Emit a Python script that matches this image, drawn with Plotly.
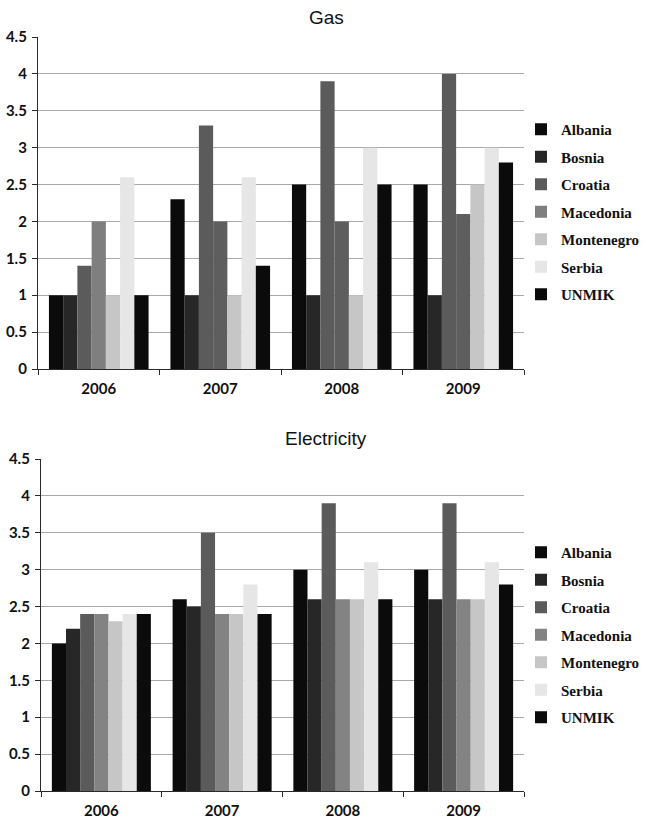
import plotly.graph_objects as go

# Categories and series
years = ["2006", "2007", "2008", "2009"]
countries = ["Albania", "Bosnia", "Croatia", "Macedonia", "Montenegro", "Serbia", "UNMIK"]

gas_albania = [1.0, 2.3, 2.5, 2.5]
gas_bosnia = [1.0, 1.0, 1.0, 1.0]
gas_croatia = [1.4, 3.3, 3.9, 4.0]
gas_macedonia = [2.0, 2.0, 2.0, 2.1]
gas_montenegro = [1.0, 1.0, 1.0, 2.5]
gas_serbia = [2.6, 2.6, 3.0, 3.0]
gas_unmik = [1.0, 1.4, 2.5, 2.8]

el_albania = [2.0, 2.6, 3.0, 3.0]
el_bosnia = [2.2, 2.5, 2.6, 2.6]
el_croatia = [2.4, 3.5, 3.9, 3.9]
el_macedonia = [2.4, 2.4, 2.6, 2.6]
el_montenegro = [2.3, 2.4, 2.6, 2.6]
el_serbia = [2.4, 2.8, 3.1, 3.1]
el_unmik = [2.4, 2.4, 2.6, 2.8]

y_ticks = [0, 0.5, 1, 1.5, 2, 2.5, 3, 3.5, 4, 4.5]
y_tick_text = ["0", "0.5", "1", "1.5", "2", "2.5", "3", "3.5", "4", "4.5"]

gas_series = [gas_albania, gas_bosnia, gas_croatia, gas_macedonia,
              gas_montenegro, gas_serbia, gas_unmik]
el_series = [el_albania, el_bosnia, el_croatia, el_macedonia,
             el_montenegro, el_serbia, el_unmik]

# Grey shades per country
shades = ["#0b0b0b", "#272727", "#5b5b5b", "#838383", "#c6c6c6", "#e6e6e6", "#0b0b0b"]
gas_macedonia_shades = ["#7f7f7f", "#5e5e5e", "#5e5e5e", "#5e5e5e"]

fig = go.Figure()

for i, (name, vals) in enumerate(zip(countries, gas_series)):
    color = gas_macedonia_shades if name == "Macedonia" else shades[i]
    fig.add_trace(go.Bar(
        x=years, y=vals, name=name, marker=dict(color=color, line=dict(width=0)),
        xaxis="x", yaxis="y", legend="legend", legendgroup="g" + name,
    ))

for i, (name, vals) in enumerate(zip(countries, el_series)):
    fig.add_trace(go.Bar(
        x=years, y=vals, name=name, marker=dict(color=shades[i], line=dict(width=0)),
        xaxis="x2", yaxis="y2", legend="legend2", legendgroup="e" + name,
    ))

W, H = 646, 822
tick_font = dict(family="Lato", size=15, color="#111111", weight="bold")
grid = "#a8a8a8"
axis_line = "#2a2a2a"


def xaxis(domain, anchor):
    return dict(domain=domain, anchor=anchor, type="category", automargin=False,
                tickson="boundaries", ticks="outside", ticklen=5, tickcolor=axis_line,
                ticklabelstandoff=6,
                showline=True, linecolor=axis_line, linewidth=1.2,
                showgrid=False, tickfont=dict(family="Lato", size=15, color="#111111", weight="bold"),
                fixedrange=True)


def yaxis(domain, anchor):
    return dict(domain=domain, anchor=anchor, range=[0, 4.5], automargin=False,
                tickvals=y_ticks, ticktext=y_tick_text,
                ticks="outside", ticklen=5, tickcolor=axis_line,
                ticklabelstandoff=2,
                showline=True, linecolor=axis_line, linewidth=1.2,
                showgrid=True, gridcolor=grid, gridwidth=1,
                zeroline=False, tickfont=tick_font, fixedrange=True)


legend_style = dict(font=dict(family="Liberation Serif", size=15, color="#111111", weight="bold"),
                    bgcolor="rgba(0,0,0,0)", tracegroupgap=5, itemwidth=30,
                    xanchor="left", yanchor="top", traceorder="grouped")

fig.update_layout(
    width=W, height=H,
    margin=dict(l=0, r=0, t=0, b=0),
    paper_bgcolor="white", plot_bgcolor="white",
    barmode="group", bargap=0.18, bargroupgap=0,
    xaxis=xaxis([38 / W, 524 / W], "y"),
    yaxis=yaxis([1 - 369 / H, 1 - 37 / H], "x"),
    xaxis2=xaxis([41 / W, 524 / W], "y2"),
    yaxis2=yaxis([1 - 791 / H, 1 - 459 / H], "x2"),
    legend=dict(x=521 / W, y=1 - 113 / H, **legend_style),
    legend2=dict(x=521 / W, y=1 - 536 / H, **legend_style),
    annotations=[
        dict(text="Gas", x=0.505, y=1 - 17 / H, xref="paper", yref="paper",
             showarrow=False, xanchor="center", yanchor="middle",
             font=dict(family="Liberation Sans", size=19, color="#111111")),
        dict(text="Electricity", x=0.505, y=1 - 439 / H, xref="paper", yref="paper",
             showarrow=False, xanchor="center", yanchor="middle",
             font=dict(family="Liberation Sans", size=19, color="#111111")),
    ],
)

fig.write_html("out.html")
